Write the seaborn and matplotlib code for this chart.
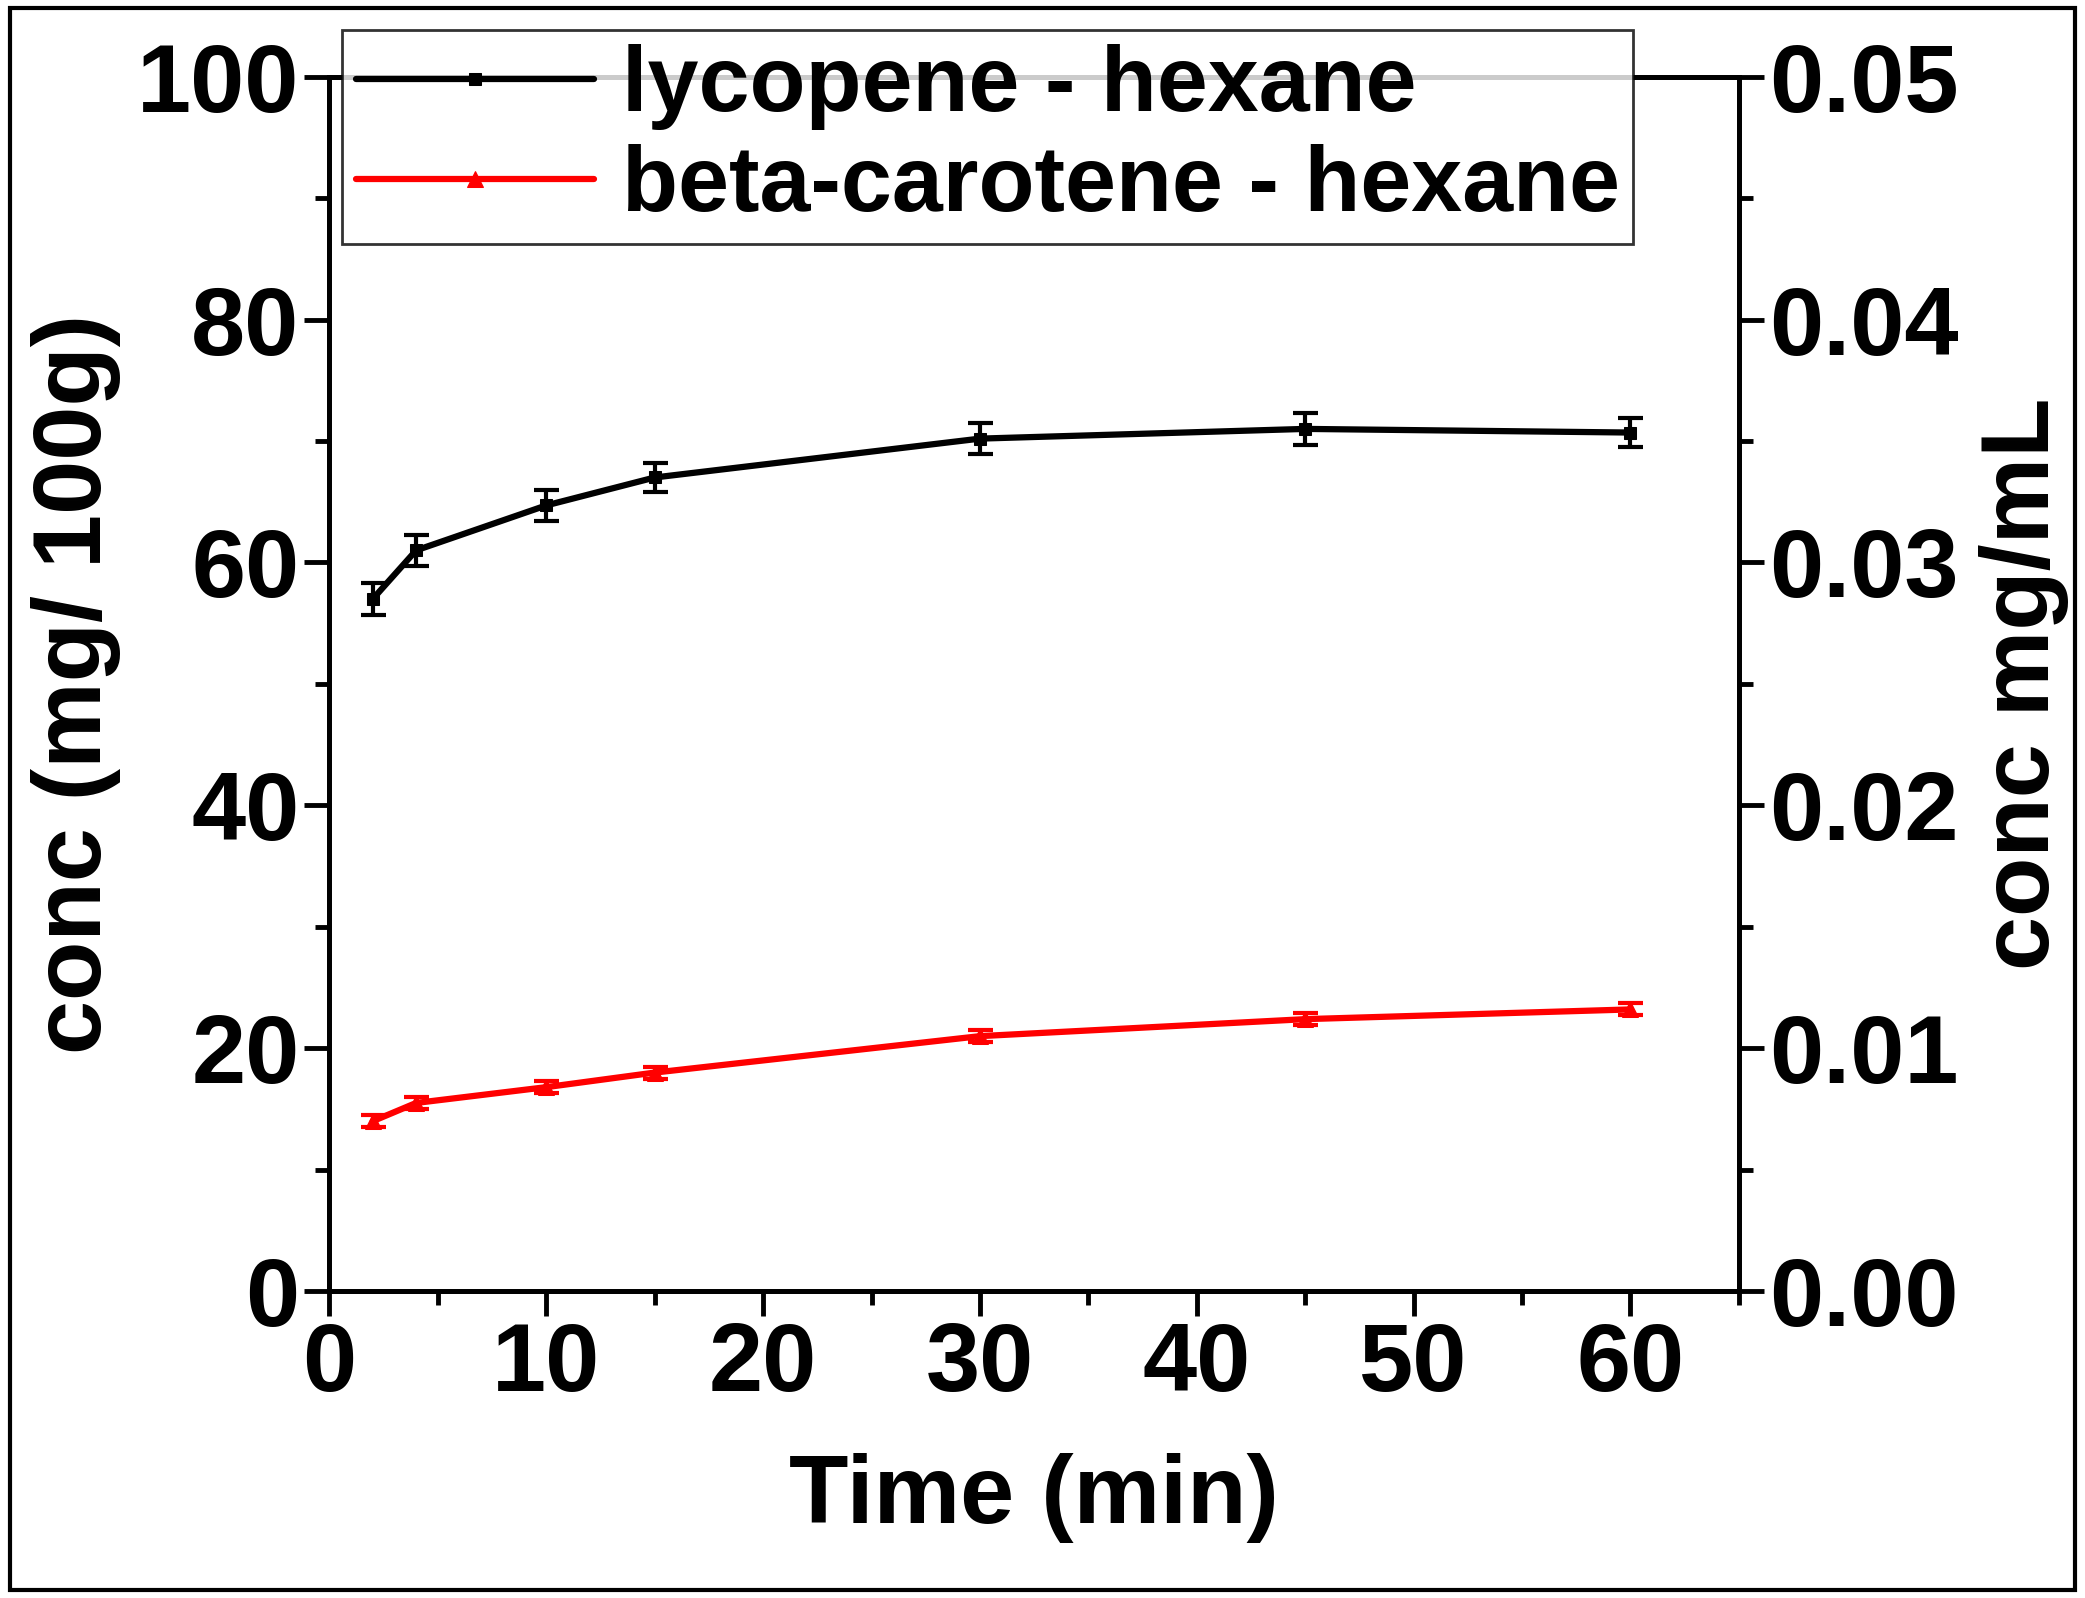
import matplotlib
matplotlib.use("Agg")
import matplotlib.pyplot as plt
import seaborn as sns
import pandas as pd
from matplotlib.ticker import MultipleLocator
from matplotlib.patches import Rectangle

time = [2, 4, 10, 15, 30, 45, 60]
lycopene = [57.0, 61.0, 64.7, 67.0, 70.2, 71.0, 70.7]
lycopene_err = [1.3, 1.3, 1.3, 1.2, 1.3, 1.3, 1.2]
beta = [14.0, 15.5, 16.8, 18.0, 21.0, 22.4, 23.2]
beta_err = [0.5, 0.5, 0.5, 0.5, 0.5, 0.5, 0.5]

sns.set_style("ticks")
plt.rcParams['font.family'] = ['Liberation Sans', 'DejaVu Sans']
plt.rcParams['font.weight'] = 'bold'
for k in ['text.color', 'axes.labelcolor', 'xtick.color', 'ytick.color', 'axes.edgecolor']:
    plt.rcParams[k] = 'black'

fig = plt.figure(figsize=(20.85, 15.98), dpi=100)
ax = fig.add_axes([0.158, 0.192, 0.676, 0.76])

df1 = pd.DataFrame({"t": time, "v": lycopene})
df2 = pd.DataFrame({"t": time, "v": beta})
sns.lineplot(data=df1, x="t", y="v", ax=ax, color="black", marker="s", markersize=9,
             linewidth=4.5, markeredgecolor="black", label="lycopene - hexane")
sns.lineplot(data=df2, x="t", y="v", ax=ax, color="red", marker="^", markersize=11,
             linewidth=4.5, markeredgecolor="red", label="beta-carotene - hexane")
ax.errorbar(time, lycopene, yerr=lycopene_err, fmt="none", ecolor="black", elinewidth=3, capsize=9, capthick=3)
ax.errorbar(time, beta, yerr=beta_err, fmt="none", ecolor="red", elinewidth=3, capsize=9, capthick=3)

ax.set_xlim(0, 65)
ax.set_ylim(0, 100)
ax.xaxis.set_major_locator(MultipleLocator(10))
ax.xaxis.set_minor_locator(MultipleLocator(5))
ax.yaxis.set_major_locator(MultipleLocator(20))
ax.yaxis.set_minor_locator(MultipleLocator(10))
for s in ax.spines.values():
    s.set_linewidth(3.5)
ax.tick_params(which="major", length=18, width=3.5, labelsize=70, direction="out")
ax.tick_params(which="minor", length=10, width=3.5, direction="out")
ax.set_xlabel("Time (min)", fontsize=70, fontweight="bold", labelpad=30)
ax.set_ylabel("conc (mg/ 100g)", fontsize=70, fontweight="bold", labelpad=12)
for lab in ax.get_xticklabels() + ax.get_yticklabels():
    lab.set_fontweight("bold")

ax2 = ax.twinx()
ax2.set_ylim(0, 0.05)
ax2.yaxis.set_major_locator(MultipleLocator(0.01))
ax2.yaxis.set_minor_locator(MultipleLocator(0.005))
ax2.yaxis.set_major_formatter(matplotlib.ticker.FormatStrFormatter("%.2f"))
ax2.tick_params(which="major", length=18, width=3.5, labelsize=70, direction="out")
ax2.tick_params(which="minor", length=10, width=3.5, direction="out")
ax2.set_ylabel("conc mg/mL", fontsize=70, fontweight="bold", labelpad=15)
for s in ax2.spines.values():
    s.set_linewidth(3.5)
for lab in ax2.get_yticklabels():
    lab.set_fontweight("bold")

h, l = ax.get_legend_handles_labels()
ax.get_legend().remove()
leg = fig.legend(h, l, loc="upper left", bbox_to_anchor=(0.164, 0.981), fontsize=66,
                 frameon=True, fancybox=False, edgecolor="black", handlelength=2.6,
                 borderpad=0.15, labelspacing=0.15, handletextpad=0.3, borderaxespad=0)
leg.get_frame().set_linewidth(2)
for t in leg.get_texts():
    t.set_fontweight("bold")

fig.patches.append(Rectangle((0.005, 0.005), 0.99, 0.99, transform=fig.transFigure,
                             fill=False, edgecolor="black", linewidth=3))
fig.savefig("out.png", dpi=100)
